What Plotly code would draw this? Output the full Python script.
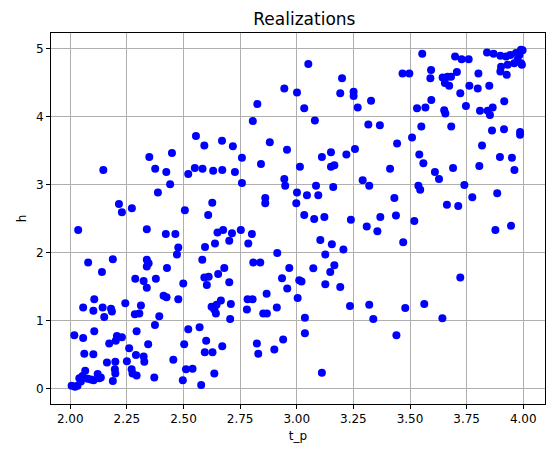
import plotly.graph_objects as go

# realizations (t_p, h)
t_p = [
    2.945, 3.001, 2.826, 2.806, 2.555, 2.592, 2.670, 2.718, 2.881, 2.957, 2.758, 2.349, 2.449,
    2.375, 2.424, 2.146, 2.521, 2.550, 2.584, 2.631, 2.671, 2.727, 2.842, 3.014, 2.441, 2.758,
    2.945, 2.949, 2.387, 3.001, 2.861, 2.861, 2.998, 2.215, 2.272, 2.228, 2.506, 2.627, 2.609,
    3.051, 3.554, 3.200, 3.192, 3.251, 3.251, 3.269, 3.328, 3.033, 3.080, 3.467, 3.497, 3.593,
    3.590, 3.644, 3.666, 3.681, 3.654, 3.673, 3.699, 3.728, 3.759, 3.707, 3.802, 3.762, 3.799,
    3.850, 3.722, 3.594, 3.531, 3.568, 3.651, 3.656, 3.747, 3.809, 3.843, 3.865, 3.853, 3.916,
    3.840, 3.869, 3.899, 3.924, 3.943, 3.968, 3.990, 3.997, 3.983, 3.975, 3.990, 3.960, 3.931,
    3.902, 3.899, 3.927, 3.994,
    3.316, 3.367, 3.550, 3.682, 3.509, 3.443, 3.862, 3.915, 3.986, 3.986, 3.818, 3.257, 3.219,
    3.151, 3.111, 3.151, 3.166, 3.541, 3.559, 3.412, 3.610, 3.628, 3.690, 3.806, 3.897, 3.950,
    3.961, 3.291, 3.320, 3.085, 3.161, 3.045, 3.095, 3.537, 3.545, 3.740, 3.775, 3.885, 3.431,
    3.663, 3.713,
    2.035, 2.338, 2.422, 2.464, 2.477, 2.471, 2.595, 2.639, 2.650, 2.675, 2.714, 2.702, 2.753,
    2.802, 2.786, 2.079, 2.188, 2.140, 2.338, 2.346, 2.338, 2.427, 2.287, 2.324, 2.338, 2.378,
    2.499, 2.583, 2.592, 2.611, 2.603, 2.653, 2.680, 2.702, 2.808, 2.839, 2.914, 2.967, 2.935,
    2.958, 3.011, 3.021, 2.106, 2.057, 2.102, 2.143, 2.180, 2.150, 2.184, 2.243, 2.312, 2.285,
    2.305, 2.393, 2.412, 2.425, 2.477, 2.624, 2.646, 2.665, 2.643, 2.636, 2.709, 2.706, 2.783,
    2.805, 2.780, 2.867, 2.852, 2.868, 2.912, 3.004, 2.374, 2.293, 2.018, 2.057, 2.106, 2.062,
    2.102, 2.172, 2.206, 2.201, 2.228, 2.260, 2.290, 2.324, 2.327, 2.344, 2.250, 2.162, 2.199,
    2.197, 2.199, 2.188, 2.271, 2.275, 2.293, 2.371, 2.521, 2.571, 2.503, 2.600, 2.594, 2.628,
    2.671, 2.455, 2.511, 2.540, 2.497, 2.578, 2.636, 2.824, 2.830, 2.901, 2.940,
    2.006, 2.021, 2.032, 2.040, 2.054, 2.066, 2.077, 2.091, 2.121, 2.135, 2.128, 2.103, 2.047,
    3.077, 3.239, 3.519, 3.122, 3.369, 3.438, 3.033, 3.309, 3.356, 3.470, 3.877, 3.946, 3.104,
    3.155, 3.206, 3.126, 3.073, 3.166, 3.148, 3.126, 3.192, 3.722, 3.235, 3.320, 3.338, 3.479,
    3.563, 3.643, 3.036, 3.036, 3.440, 3.111,
]
h = [
    4.41, 4.35, 4.18, 3.93, 3.71, 3.57, 3.64, 3.56, 3.62, 3.51, 3.39, 3.40, 3.46,
    3.23, 3.18, 3.21, 3.15, 3.24, 3.23, 3.20, 3.21, 3.18, 3.30, 3.26, 3.00, 3.02,
    3.08, 2.98, 2.88, 2.88, 2.80, 2.72, 2.72, 2.71, 2.65, 2.59, 2.62, 2.73, 2.55,
    4.77, 4.92, 4.56, 4.34, 4.36, 4.30, 4.13, 4.23, 4.12, 3.94, 4.63, 4.63, 4.68,
    4.56, 4.57, 4.58, 4.58, 4.49, 4.45, 4.88, 4.84, 4.84, 4.65, 4.63, 4.45, 4.41,
    4.45, 4.34, 4.24, 4.12, 4.13, 4.09, 4.04, 4.15, 4.08, 4.08, 4.13, 4.02, 4.22,
    4.94, 4.92, 4.89, 4.88, 4.90, 4.93, 4.98, 4.97, 4.90, 4.83, 4.78, 4.78, 4.76,
    4.73, 4.66, 4.61, 4.76,
    3.88, 3.87, 3.85, 3.85, 3.69, 3.60, 3.79, 3.81, 3.77, 3.73, 3.57, 3.52, 3.44,
    3.47, 3.40, 3.26, 3.28, 3.44, 3.31, 3.23, 3.18, 3.08, 3.24, 3.27, 3.40, 3.39,
    3.21, 3.06, 2.98, 2.98, 2.96, 2.84, 2.84, 2.98, 2.92, 2.99, 2.81, 2.87, 2.80,
    2.70, 2.68,
    2.33, 2.34, 2.27, 2.27, 2.07, 1.97, 2.08, 2.13, 2.29, 2.33, 2.28, 2.17, 2.33,
    2.27, 2.13, 1.85, 1.90, 1.71, 1.89, 1.84, 1.79, 1.77, 1.61, 1.58, 1.48, 1.61,
    1.54, 1.89, 1.63, 1.64, 1.52, 1.68, 1.77, 1.56, 1.85, 1.85, 1.99, 1.77, 1.62,
    1.47, 1.59, 1.57, 1.31, 1.19, 1.14, 1.19, 1.17, 1.05, 1.13, 1.25, 1.22, 1.09,
    1.10, 1.06, 1.36, 1.34, 1.31, 1.20, 1.23, 1.29, 1.10, 1.16, 1.24, 1.02, 1.31,
    1.31, 1.16, 1.39, 1.10, 1.10, 1.19, 1.33, 0.93, 0.84, 0.78, 0.74, 0.84, 0.51,
    0.50, 0.66, 0.77, 0.70, 0.75, 0.59, 0.49, 0.47, 0.39, 0.65, 0.40, 0.38, 0.39,
    0.28, 0.22, 0.11, 0.28, 0.22, 0.19, 0.16, 0.87, 0.90, 0.65, 0.70, 0.53, 0.53,
    0.62, 0.42, 0.28, 0.29, 0.12, 0.05, 0.22, 0.66, 0.51, 0.57, 0.72,
    0.04, 0.025, 0.04, 0.15, 0.18, 0.26, 0.14, 0.13, 0.21, 0.16, 0.15, 0.12, 0.10,
    2.49, 2.48, 2.46, 2.52, 2.52, 2.54, 2.55, 2.38, 2.31, 2.15, 2.33, 2.39, 2.18,
    2.12, 2.04, 1.97, 1.765, 1.81, 1.71, 1.53, 1.49, 1.63, 1.21, 1.23, 1.02, 1.18,
    1.24, 1.03, 1.04, 0.81, 0.78, 0.23,
]

x_ticks = [2.0, 2.25, 2.5, 2.75, 3.0, 3.25, 3.5, 3.75, 4.0]
y_ticks = [0, 1, 2, 3, 4, 5]

fig = go.Figure()
fig.add_trace(go.Scatter(
    x=t_p, y=h, mode="markers",
    marker=dict(color="blue", size=8, line=dict(width=0)),
))

axis_style = dict(
    showline=True, linecolor="black", linewidth=1, mirror=True,
    ticks="outside", ticklen=4, tickcolor="black",
    showgrid=True, gridcolor="#b0b0b0", gridwidth=1, zeroline=False,
    tickfont=dict(size=12, color="black"),
)

fig.update_layout(
    width=554, height=456,
    margin=dict(l=43, r=17, t=25, b=60),
    paper_bgcolor="white", plot_bgcolor="white",
    font=dict(family="DejaVu Sans", color="black"),
    title=dict(text="Realizations", x=0.535, xanchor="center",
               y=0.975, yanchor="middle", font=dict(size=17)),
    showlegend=False,
)
fig.update_xaxes(range=[1.915, 4.096], tickvals=x_ticks,
                 ticktext=["%.2f" % v for v in x_ticks],
                 title=dict(text="t_p", font=dict(size=12), standoff=6), **axis_style)
fig.update_yaxes(range=[-0.23, 5.225], tickvals=y_ticks,
                 title=dict(text="h", font=dict(size=12), standoff=6), **axis_style)

fig.write_html("out.html")
